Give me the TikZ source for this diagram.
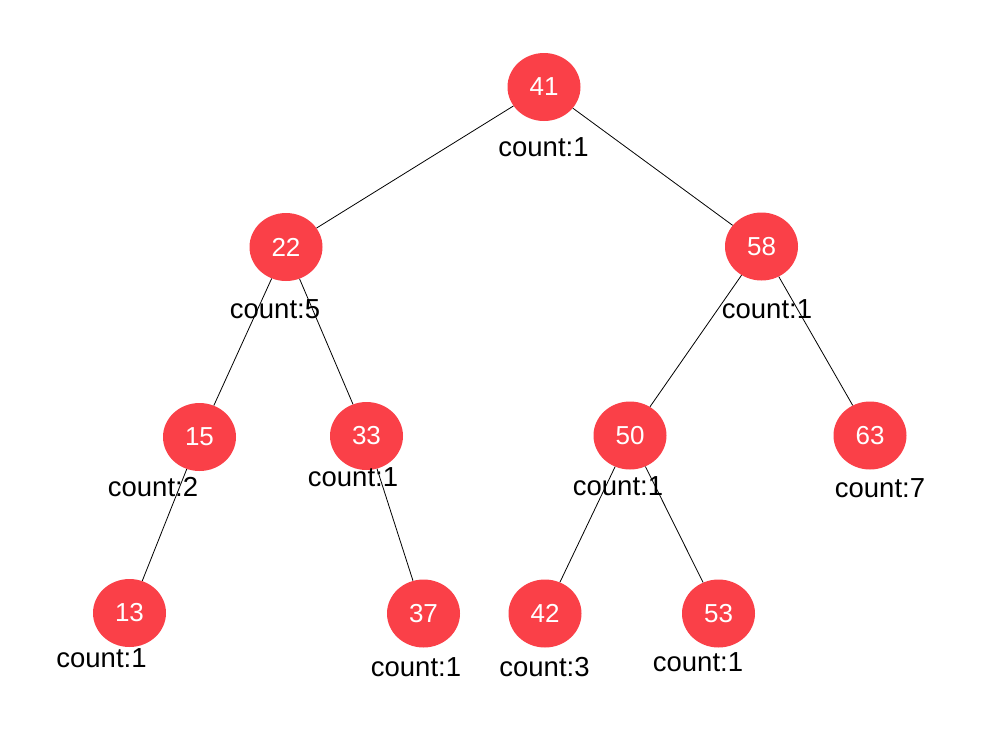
\documentclass[tikz,border=0pt]{standalone}
\usepackage{fontspec}
\setmainfont{Liberation Sans}
\usetikzlibrary{shapes.geometric}
\definecolor{nodered}{RGB}{250,64,72}
\begin{document}
\begin{tikzpicture}[x=1pt,y=-1pt,
  keynode/.style={ellipse,fill=nodered,draw=none,minimum width=73pt,minimum height=68pt,inner sep=0pt,
    text=white,font=\fontsize{26}{26}\selectfont},
  countlbl/.style={inner sep=0pt,font=\fontsize{27.5}{27.5}\selectfont},
  edge/.style={draw=black,line width=0.8pt}]
\useasboundingbox (0,0) rectangle (1002,734);
\fill[white] (0,0) rectangle (1002,734);

% tree keys
\node[keynode] (n41) at (544,87) {41};
\node[keynode] (n22) at (286,247) {22};
\node[keynode] (n58) at (761.5,246.5) {58};
\node[keynode] (n15) at (199.5,437) {15};
\node[keynode] (n33) at (366.5,436) {33};
\node[keynode] (n50) at (630,435.5) {50};
\node[keynode] (n63) at (870,435.5) {63};
\node[keynode] (n13) at (129.5,613) {13};
\node[keynode] (n37) at (423.5,613.5) {37};
\node[keynode] (n42) at (545,613.5) {42};
\node[keynode] (n53) at (718.5,613.5) {53};

% counters under each key
\node[countlbl] (c41) at (543.5,147) {count:1};
\node[countlbl] (c22) at (275,309.5) {count:5};
\node[countlbl] (c58) at (767,309.5) {count:1};
\node[countlbl] (c15) at (153,487.5) {count:2};
\node[countlbl] (c33) at (353,477) {count:1};
\node[countlbl] (c50) at (618,486.5) {count:1};
\node[countlbl] (c63) at (880,488) {count:7};
\node[countlbl] (c13) at (101.5,658) {count:1};
\node[countlbl] (c37) at (416,667) {count:1};
\node[countlbl] (c42) at (544.5,667.5) {count:3};
\node[countlbl] (c53) at (698,662.5) {count:1};

% parent-child links
\foreach \p/\c in {n41/n22,n41/n58,n22/n15,n22/n33,n58/n50,n58/n63,n15/n13,n33/n37,n50/n42,n50/n53}
  \draw[edge] (\p) -- (\c);
\end{tikzpicture}
\end{document}
